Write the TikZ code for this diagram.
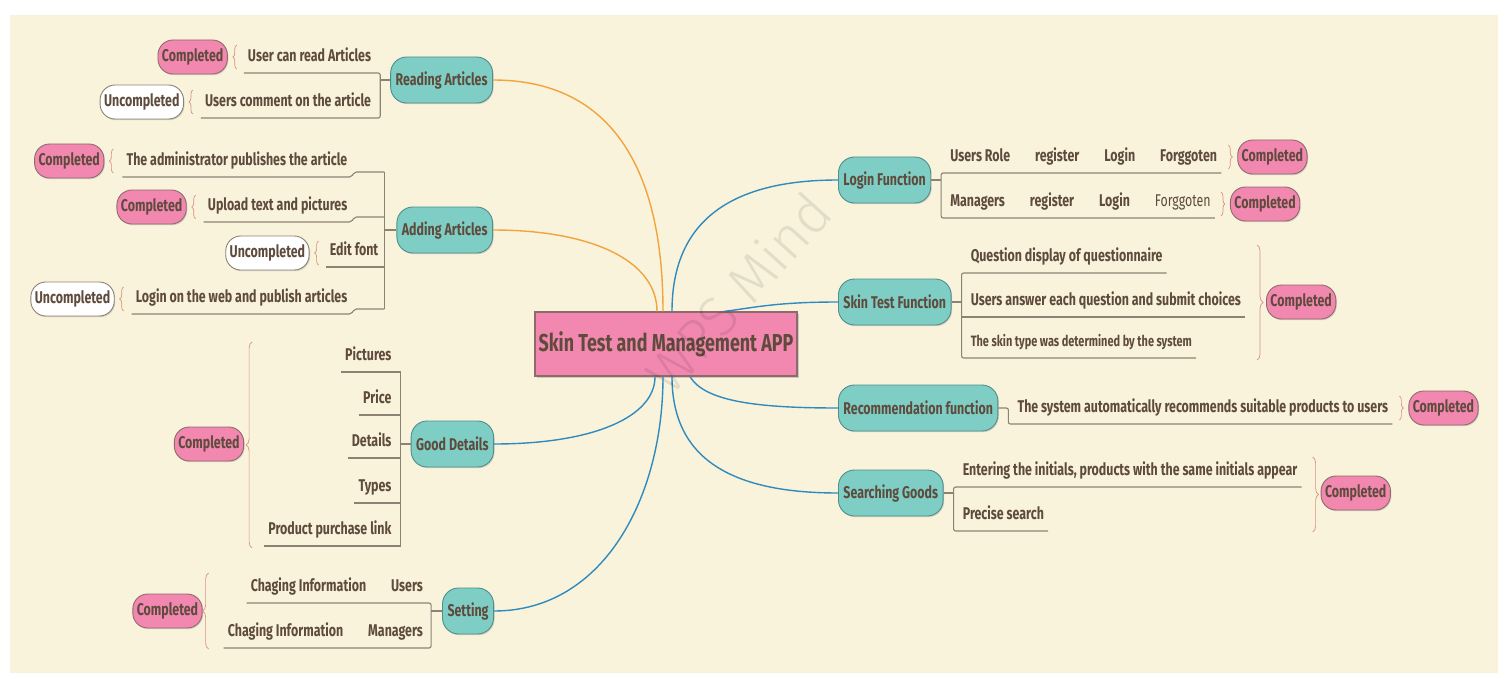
\documentclass[tikz,border=0pt]{standalone}
\usepackage{fontspec}
\setmainfont{Fira Sans}[FakeStretch=0.73]
\newfontfamily\wmfont{Fira Sans Light}
\usetikzlibrary{calc,decorations.pathreplacing,shadows}

\definecolor{bgcream}{HTML}{F9F3DC}
\definecolor{inkbrown}{HTML}{5E4B3C}
\definecolor{tealfill}{HTML}{7FCEC6}
\definecolor{tealedge}{HTML}{4F8E8A}
\definecolor{pinkfill}{HTML}{F288B0}
\definecolor{pinkedge}{HTML}{8E6A6C}
\definecolor{stemgray}{HTML}{8C8274}
\definecolor{warmline}{HTML}{F2A33C}
\definecolor{coolline}{HTML}{2F8BBE}
\definecolor{bracered}{HTML}{D9917F}

\tikzset{
  ink/.style={text=inkbrown, font=\fontsize{17}{20}\selectfont\bfseries},
  hub/.style={ink, font=\fontsize{24.5}{28}\selectfont\bfseries, fill=pinkfill, draw=pinkedge,
    line width=1.3pt, minimum width=262pt, minimum height=64pt,
    drop shadow={shadow xshift=1.5pt, shadow yshift=-1.5pt, opacity=0.35}},
  branch/.style={ink, fill=tealfill, draw=tealedge, line width=0.9pt, rounded corners=16pt,
    minimum height=46pt, inner xsep=5pt,
    drop shadow={shadow xshift=1pt, shadow yshift=-1.2pt, opacity=0.3}},
  done/.style={ink, fill=pinkfill, draw=pinkedge, line width=0.9pt, rounded corners=15pt,
    minimum height=34pt, inner xsep=4pt,
    drop shadow={shadow xshift=1pt, shadow yshift=-1.2pt, opacity=0.3}},
  undone/.style={done, fill=white, draw=stemgray},
  leaf/.style={ink, text depth=0pt, inner ysep=11pt, inner xsep=4pt},
  smallleaf/.style={leaf, font=\fontsize{15}{18}\selectfont\bfseries},
  stem/.style={draw=stemgray, line width=1.1pt, rounded corners=2pt},
  warmlink/.style={draw=warmline, line width=1.4pt},
  coollink/.style={draw=coolline, line width=1.4pt},
  tie/.style={draw=bracered, line width=0.7pt, decorate, decoration={brace, amplitude=4pt}},
  bigtie/.style={tie, decoration={brace, amplitude=6pt}},
  wmtext/.style={text=black, text opacity=0.09, font=\fontsize{56}{60}\wmfont}
}

\begin{document}
\begin{tikzpicture}[x=1pt,y=-1pt]
  % Canvas
  \useasboundingbox (0,0) rectangle (1510,682);
  \fill[white] (0,0) rectangle (1510,682);
  \fill[bgcream] (10,15) rectangle (1498,673);

  % Central topic
  \node[hub] (app) at (666,344) {Skin Test and Management APP};

  % Main branches
  \node[branch, anchor=east] (read) at (493,80) {Reading Articles};
  \node[branch, anchor=east] (add) at (493,230) {Adding Articles};
  \node[branch, anchor=east] (good) at (494,444) {Good Details};
  \node[branch, anchor=east] (set) at (494,611) {Setting};
  \node[branch, anchor=west] (login) at (838,180) {Login Function};
  \node[branch, anchor=west] (skin) at (838,302) {Skin Test Function};
  \node[branch, anchor=west] (rec) at (838,408) {Recommendation function};
  \node[branch, anchor=west] (search) at (838,493) {Searching Goods};

  % Curved links to the centre
  \draw[warmlink] (read.east) .. controls +(120,0) and +(0,-140) .. ($(app.north)+(-3,0)$);
  \draw[warmlink] (add.east) .. controls +(100,0) and +(0,-50) .. ($(app.north)+(-9,0)$);
  \draw[coollink] (good.east) .. controls +(100,0) and +(0,40) .. ($(app.south)+(-11,0)$);
  \draw[coollink] (set.east) .. controls +(110,0) and +(0,120) .. ($(app.south)+(-3,0)$);
  \draw[coollink] (login.west) .. controls +(-120,0) and +(0,-80) .. ($(app.north)+(6,0)$);
  \draw[coollink] (skin.west) .. controls +(-60,0) and +(30,-4) .. ($(app.north)+(59,0)$);
  \draw[coollink] (rec.west) .. controls +(-80,0) and +(15,25) .. ($(app.south)+(24,0)$);
  \draw[coollink] (search.west) .. controls +(-110,0) and +(0,80) .. ($(app.south)+(6,0)$);

  % Watermark
  \node[wmtext, rotate=48] (wm) at (738,292) {WPS Mind};

  % Reading Articles
  \coordinate (readj) at ($(read.west)+(-10,0)$);
  \node[leaf, anchor=south east] (read1) at ($(readj)+(-5,-7)$) {User can read Articles};
  \node[leaf, anchor=south east] (read2) at ($(readj)+(-5,38)$) {Users comment on the article};
  \draw[stem] (read.west) -- (readj);
  \draw[stem] (read1.south west) -- (read1.south -| readj) -- (read2.south -| readj) -- (read2.south west);
  \node[done, anchor=east] (read1s) at ($(read1.south west)+(-16,-16)$) {Completed};
  \node[undone, anchor=east] (read2s) at ($(read2.south west)+(-17,-16)$) {Uncompleted};
  \draw[tie] ($(read1s.east)+(9,12)$) -- ($(read1s.east)+(9,-12)$);
  \draw[tie] ($(read2s.east)+(9,12)$) -- ($(read2s.east)+(9,-12)$);

  % Adding Articles
  \coordinate (addj) at ($(add.west)+(-12,0)$);
  \node[leaf, anchor=south east] (add1) at ($(addj)+(-33,-53)$) {The administrator publishes the article};
  \node[leaf, anchor=south east] (add2) at ($(addj)+(-33,-8)$) {Upload text and pictures};
  \node[leaf, anchor=south east] (add3) at ($(addj)+(-2,37)$) {Edit font};
  \node[leaf, anchor=south east] (add4) at ($(addj)+(-33,84)$) {Login on the web and publish articles};
  \draw[stem] (add.west) -- (addj);
  \foreach \n in {add1,add2,add4}
    \draw[stem] (\n.south west) -- (\n.south east) -- ++(3,-5) coordinate (\n-k) -- (\n-k -| addj);
  \draw[stem] (add3.south west) -- (add3.south -| addj);
  \draw[stem] (add1-k -| addj) -- (add4-k -| addj);
  \node[done, anchor=east] (add1s) at ($(add1.south west)+(-18,-16)$) {Completed};
  \node[done, anchor=east] (add2s) at ($(add2.south west)+(-17,-15)$) {Completed};
  \node[undone, anchor=east] (add3s) at ($(add3.south west)+(-16,-14)$) {Uncompleted};
  \node[undone, anchor=east] (add4s) at ($(add4.south west)+(-17,-15)$) {Uncompleted};
  \foreach \n in {add1s,add2s,add3s,add4s}
    \draw[tie] ($(\n.east)+(9,12)$) -- ($(\n.east)+(9,-12)$);

  % Good Details
  \coordinate (goodj) at ($(good.west)+(-10,0)$);
  \foreach \n/\y/\t in {1/-72/Pictures, 2/-29/Price, 3/14/Details, 4/59/Types, 5/102/Product purchase link}
    \node[leaf, anchor=south east] (good\n) at ($(goodj)+(-5,\y)$) {\t};
  \draw[stem] (good.west) -- (goodj);
  \foreach \n in {1,...,5}
    \draw[stem] (good\n.south west) -- (good\n.south -| goodj);
  \draw[stem] (good1.south -| goodj) -- (good5.south -| goodj);
  \node[done, anchor=east] (goods) at ($(good5.south west)+(-20,-102)$) {Completed};
  \draw[bigtie] ($(goods.east)+(8,104)$) -- ($(goods.east)+(8,-102)$);

  % Setting
  \coordinate (setj) at ($(set.west)+(-11,0)$);
  \node[leaf, anchor=south east] (set1) at ($(setj)+(-4,-8)$) {Chaging Information\hspace{25pt}Users};
  \node[leaf, anchor=south east] (set2) at ($(setj)+(-4,37)$) {Chaging Information\hspace{25pt}Managers};
  \draw[stem] (set.west) -- (setj);
  \draw[stem] (set1.south west) -- (set1.south -| setj) -- (set2.south -| setj) -- (set2.south west);
  \node[done, anchor=east] (sets) at ($(set2.south west)+(-21,-37)$) {Completed};
  \draw[bigtie] ($(sets.east)+(6,38)$) -- ($(sets.east)+(6,-38)$);

  % Login Function
  \coordinate (loginj) at ($(login.east)+(10,0)$);
  \node[leaf, anchor=south west] (login1) at ($(loginj)+(5,-7)$)
    {Users Role\hspace{25pt}register\hspace{25pt}Login\hspace{25pt}Forggoten};
  \node[leaf, anchor=south west] (login2) at ($(loginj)+(5,38)$)
    {Managers\hspace{25pt}register\hspace{25pt}Login\hspace{25pt}{\mdseries Forggoten}};
  \draw[stem] (login.east) -- (loginj);
  \draw[stem] (login1.south east) -- (login1.south -| loginj) -- (login2.south -| loginj) -- (login2.south east);
  \node[done, anchor=west] (login1s) at ($(login1.south east)+(16,-16)$) {Completed};
  \node[done, anchor=west] (login2s) at ($(login2.south east)+(15,-14)$) {Completed};
  \draw[tie] ($(login1s.west)+(-9,-12)$) -- ($(login1s.west)+(-9,12)$);
  \draw[tie] ($(login2s.west)+(-9,-12)$) -- ($(login2s.west)+(-9,12)$);

  % Skin Test Function
  \coordinate (skinj) at ($(skin.east)+(10,0)$);
  \node[leaf, anchor=south west] (skin1) at ($(skinj)+(5,-29)$) {Question display of questionnaire};
  \node[leaf, anchor=south west] (skin2) at ($(skinj)+(5,15)$) {Users answer each question and submit choices};
  \node[smallleaf, anchor=south west] (skin3) at ($(skinj)+(5,56)$) {The skin type was determined by the system};
  \draw[stem] (skin.east) -- (skinj);
  \draw[stem] (skin1.south east) -- (skin1.south -| skinj) -- (skin3.south -| skinj) -- (skin3.south east);
  \draw[stem] (skin2.south -| skinj) -- (skin2.south east);
  \node[done, anchor=west] (skins) at ($(skin2.south east)+(21,-15)$) {Completed};
  \draw[bigtie] ($(skins.west)+(-9,-57)$) -- ($(skins.west)+(-9,58)$);

  % Recommendation function
  \coordinate (recj) at ($(rec.east)+(10,0)$);
  \node[leaf, anchor=south west] (rec1) at ($(recj)+(5,16)$) {The system automatically recommends suitable products to users};
  \draw[stem] (rec.east) -- (recj) -- (rec1.south -| recj) -- (rec1.south east);
  \node[done, anchor=west] (rec1s) at ($(rec1.south east)+(16,-16)$) {Completed};
  \draw[tie] ($(rec1s.west)+(-9,-12)$) -- ($(rec1s.west)+(-9,12)$);

  % Searching Goods
  \coordinate (searchj) at ($(search.east)+(10,0)$);
  \node[leaf, anchor=south west] (search1) at ($(searchj)+(5,-6)$) {Entering the initials, products with the same initials appear};
  \node[leaf, anchor=south west] (search2) at ($(searchj)+(5,38)$) {Precise search};
  \draw[stem] (search.east) -- (searchj);
  \draw[stem] (search1.south east) -- (search1.south -| searchj) -- (search2.south -| searchj) -- (search2.south east);
  \node[done, anchor=west] (searchs) at ($(search1.south east)+(19,6)$) {Completed};
  \draw[bigtie] ($(searchs.west)+(-8,-36)$) -- ($(searchs.west)+(-8,39)$);
\end{tikzpicture}
\end{document}
